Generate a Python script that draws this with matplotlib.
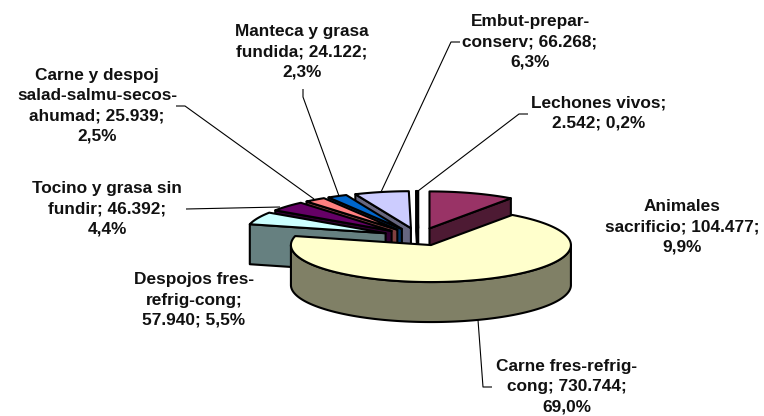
import numpy as np
import matplotlib
matplotlib.use("Agg")
import matplotlib.pyplot as plt

values = [104477, 730744, 57940, 46392, 25939, 24122, 66268, 2542]
label_texts = ["Animales\nsacrificio; 104.477;\n9,9%",
               "Carne fres-refrig-\ncong; 730.744;\n69,0%",
               "Despojos fres-\nrefrig-cong;\n57.940; 5,5%",
               "Tocino y grasa sin\nfundir; 46.392;\n4,4%",
               "Carne y despoj\nsalad-salmu-secos-\nahumad; 25.939;\n2,5%",
               "Manteca y grasa\nfundida; 24.122;\n2,3%",
               "Embut-prepar-\nconserv; 66.268;\n6,3%",
               "Lechones vivos;\n2.542; 0,2%"]
top_colors = ["#993366", "#FFFFCC", "#CCFFFF", "#660066", "#FF8080", "#0066CC", "#CCCCFF", "#000080"]
side_colors = ["#4D1A33", "#808066", "#668080", "#330033", "#804040", "#003366", "#666680", "#000040"]
label_pos = [(682, 227), (567, 387), (194, 300), (107, 209), (97, 106), (302, 52), (530, 42), (599, 113)]
leaders = [None, [(478, 320), (483, 387), (492, 387)], None, [(186, 209), (280, 207)],
           [(176, 106), (185, 106), (314, 199)], [(303, 89), (303, 97), (339, 196)],
           [(460, 42), (451, 42), (381, 192)], [(528, 114), (519, 114), (418, 191)]]

CX, CY, RX, RY, DEPTH, EX, EY = 418.5, 236.8, 140, 37, 40, 36, 8.8

fig = plt.figure(figsize=(7.64, 4.16), dpi=100)
ax = fig.add_axes([0, 0, 1, 1])
ax.set_xlim(0, 764)
ax.set_ylim(416, 0)
ax.axis("off")

vals = np.array(values, dtype=float)
edges = np.concatenate([[0], np.cumsum(vals) / vals.sum() * 2 * np.pi])
kw = dict(edgecolor="black", linewidth=1.5, joinstyle="round")


def wedge(i):
    a, b = edges[i], edges[i + 1]
    m = (a + b) / 2
    ox = CX + EX * np.sin(m)
    oy = CY - EY * np.cos(m)
    t = np.linspace(a, b, max(int((b - a) * 60), 3))
    x = ox + RX * np.sin(t)
    y = oy - RY * np.cos(t)
    walls = []
    if np.sin(a) < -1e-6:
        walls.append(a)
    if np.sin(b) > 1e-6:
        walls.append(b)
    for ang in walls:
        ex, ey = ox + RX * np.sin(ang), oy - RY * np.cos(ang)
        ax.fill([ox, ex, ex, ox], [oy, ey, ey + DEPTH, oy + DEPTH], facecolor=side_colors[i], **kw)
    vis = t[(t >= np.pi / 2) & (t <= 3 * np.pi / 2)]
    if len(vis) > 1:
        vx = ox + RX * np.sin(vis)
        vy = oy - RY * np.cos(vis)
        ax.fill(np.r_[vx, vx[::-1]], np.r_[vy, vy[::-1] + DEPTH], facecolor=side_colors[i], **kw)
    ax.fill(np.r_[ox, x], np.r_[oy, y], facecolor=top_colors[i], **kw)


for i in [0, 7, 6, 5, 4, 3, 2, 1]:
    wedge(i)

for pts in leaders:
    if pts:
        ax.plot(*zip(*pts), color="black", lw=0.8, solid_capstyle="butt")

for txt, (x, y) in zip(label_texts, label_pos):
    ax.text(x, y, txt, ha="center", va="center", family="Liberation Sans", weight="bold",
            fontsize=12.4, linespacing=1.42, color="#111111")

fig.savefig("out.png", dpi=100)
